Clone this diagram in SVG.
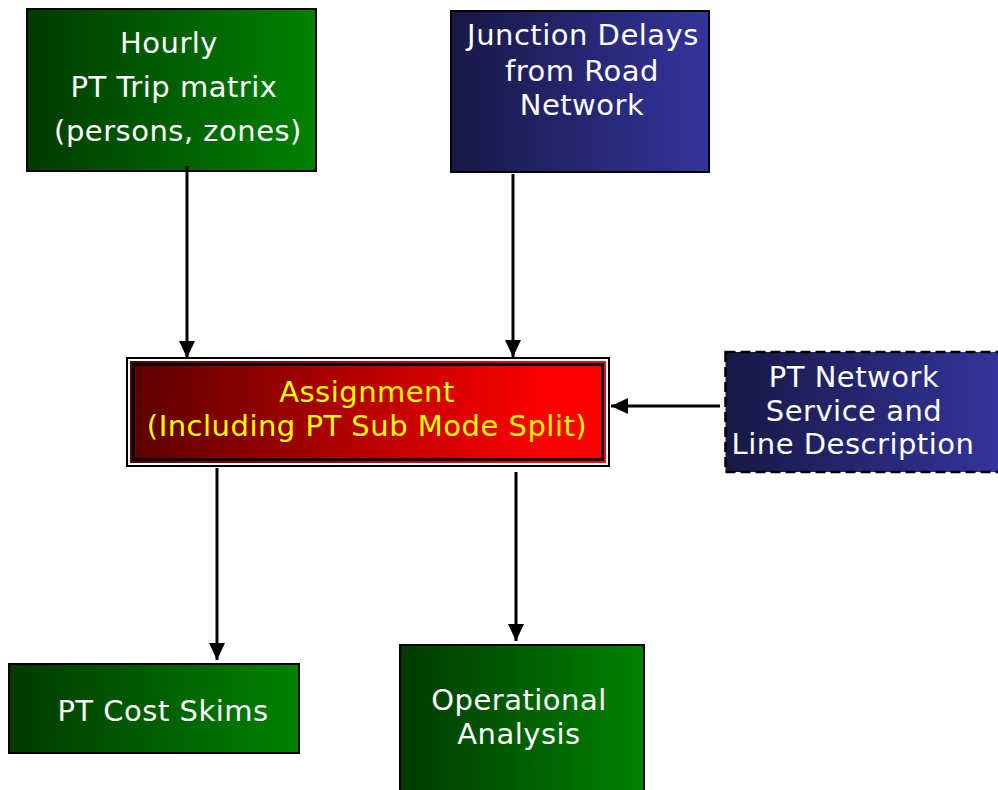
<svg xmlns="http://www.w3.org/2000/svg" width="998" height="790" viewBox="0 0 998 790">
  <defs>
    <linearGradient id="gGreen" x1="0" y1="0" x2="1" y2="0">
      <stop offset="0" stop-color="#003a00"/>
      <stop offset="1" stop-color="#008200"/>
    </linearGradient>
    <linearGradient id="gBlue" x1="0" y1="0" x2="1" y2="0">
      <stop offset="0" stop-color="#181846"/>
      <stop offset="1" stop-color="#34349c"/>
    </linearGradient>
    <linearGradient id="gRed" x1="0" y1="0" x2="1" y2="0">
      <stop offset="0" stop-color="#5c0000"/>
      <stop offset="0.88" stop-color="#ff0000"/>
      <stop offset="1" stop-color="#ff0000"/>
    </linearGradient>
    <marker id="arrow" viewBox="0 0 17 16" refX="17" refY="8" markerWidth="17" markerHeight="16" markerUnits="userSpaceOnUse" orient="auto">
      <path d="M0,0 L17,8 L0,16 Z" fill="#000"/>
    </marker>
  </defs>
  <style>
    .box { stroke: #000; stroke-width: 2; }
    .lbl { font-family: "DejaVu Sans", Verdana, sans-serif; font-size: 29px; letter-spacing: 0.5px; fill: #fff; text-anchor: middle; }
    .conn { stroke: #000; stroke-width: 3; fill: none; marker-end: url(#arrow); }
  </style>

  <rect width="998" height="790" fill="#fff"/>

  <g id="trip-matrix">
    <rect class="box" x="27" y="9" width="289" height="162" fill="url(#gGreen)"/>
    <text class="lbl" x="169" y="53">Hourly</text>
    <text class="lbl" x="174" y="97">PT Trip matrix</text>
    <text class="lbl" x="178" y="141">(persons, zones)</text>
  </g>

  <g id="junction-delays">
    <rect class="box" x="451" y="11" width="258" height="161" fill="url(#gBlue)"/>
    <text class="lbl" x="583" y="45">Junction Delays</text>
    <text class="lbl" x="582" y="81">from Road</text>
    <text class="lbl" x="582" y="115">Network</text>
  </g>

  <g id="assignment">
    <rect x="127" y="358" width="482" height="108" fill="#fff" stroke="#000" stroke-width="2"/>
    <rect x="130" y="361" width="476" height="102" fill="url(#gRed)"/>
    <rect x="133.5" y="364.5" width="469" height="95" fill="none" stroke="#000" stroke-width="3"/>
    <text class="lbl" x="367" y="402" style="fill:#ffff00">Assignment</text>
    <text class="lbl" x="367" y="436" style="fill:#ffff00">(Including PT Sub Mode Split)</text>
  </g>

  <g id="pt-network">
    <rect x="725.5" y="352" width="275" height="120" fill="url(#gBlue)" stroke="#000" stroke-width="2.5" stroke-dasharray="10,5"/>
    <text class="lbl" x="854" y="387">PT Network</text>
    <text class="lbl" x="854" y="421">Service and</text>
    <text class="lbl" x="853" y="454">Line Description</text>
  </g>

  <g id="cost-skims">
    <rect class="box" x="9" y="664" width="290" height="89" fill="url(#gGreen)"/>
    <text class="lbl" x="163" y="721">PT Cost Skims</text>
  </g>

  <g id="operational">
    <rect class="box" x="400" y="645" width="244" height="150" fill="url(#gGreen)"/>
    <text class="lbl" x="519" y="710">Operational</text>
    <text class="lbl" x="519" y="744">Analysis</text>
  </g>

  <g id="connectors">
    <line class="conn" x1="187" y1="166" x2="187" y2="358"/>
    <line class="conn" x1="513" y1="174" x2="513" y2="357"/>
    <line class="conn" x1="720" y1="406" x2="611" y2="406"/>
    <line class="conn" x1="217" y1="468" x2="217" y2="660"/>
    <line class="conn" x1="516" y1="472" x2="516" y2="641"/>
  </g>
</svg>
